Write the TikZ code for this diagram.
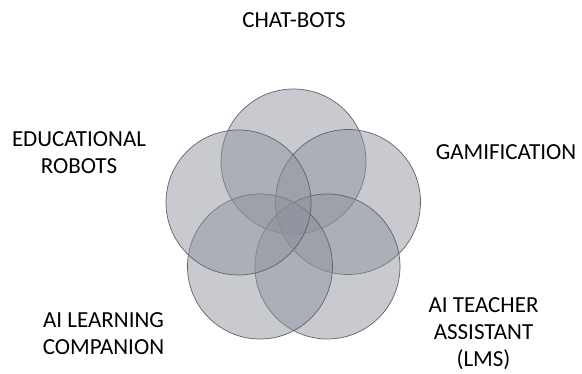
\documentclass[tikz,border=0pt]{standalone}
\usepackage{fontspec}
\setmainfont{Carlito}
\usepackage{tikz}

\begin{document}
\begin{tikzpicture}[x=1pt, y=1pt,
    petal/.style={circle, inner sep=0pt, minimum size=145pt, draw={rgb,255:red,95;green,98;blue,105}, line width=0.7pt, fill={rgb,255:red,140;green,145;blue,156}, fill opacity=0.48},
    lbl/.style={align=center, inner sep=0pt, font=\fontsize{23}{27}\selectfont}]
    \useasboundingbox (0,0) rectangle (582,373);

    % Circles
    \node(1) at (293.5,211.5) [petal] {};
    \node(2) at (348,171) [petal] {};
    \node(3) at (327.5,106.5) [petal] {};
    \node(4) at (260,106.5) [petal] {};
    \node(5) at (238.5,170.5) [petal] {};

    % Labels
    \node(11) at (294,353) [lbl] {CHAT-BOTS};
    \node(12) at (506,221) [lbl] {GAMIFICATION};
    \node(13) at (483.5,39) [lbl] {AI TEACHER\\ASSISTANT\\(LMS)};
    \node(14) at (103.5,39.5) [lbl] {AI LEARNING\\COMPANION};
    \node(15) at (79,220) [lbl] {EDUCATIONAL\\ROBOTS};

\end{tikzpicture}
\end{document}
